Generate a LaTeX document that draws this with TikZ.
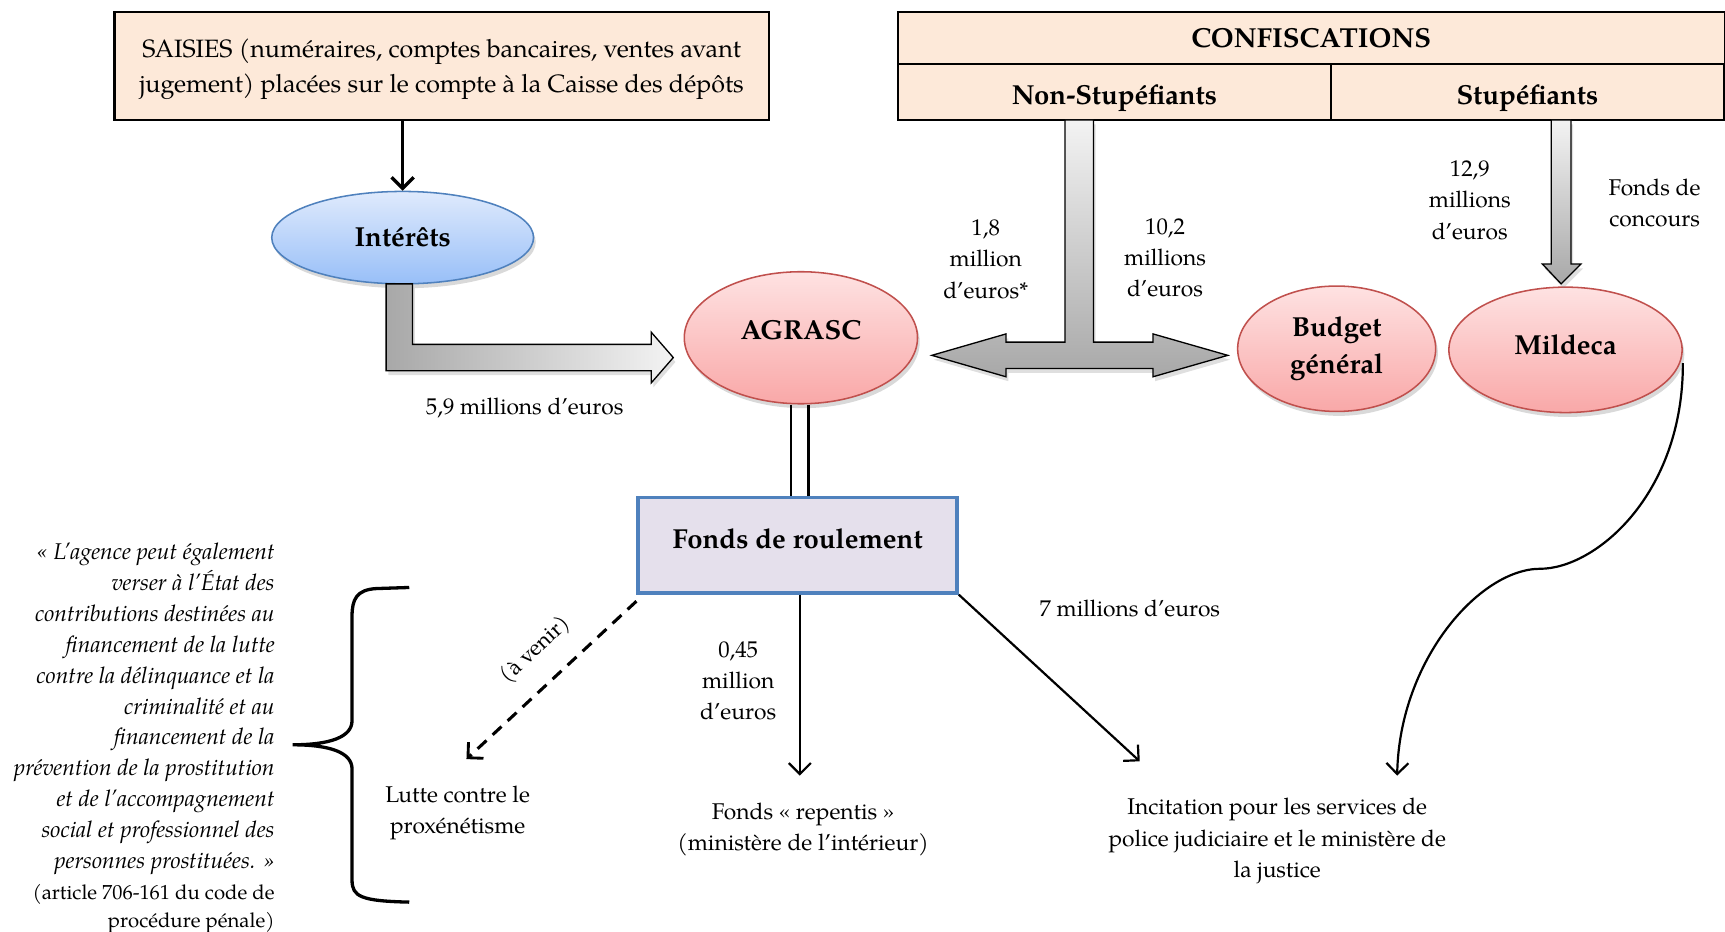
\documentclass[tikz,border=0pt]{standalone}
\usepackage{fontspec}
\setmainfont{TeX Gyre Pagella}
\usetikzlibrary{shapes.geometric,arrows.meta,shadows,calc}
\definecolor{peach}{RGB}{253,233,217}
\definecolor{lav}{RGB}{229,224,236}
\definecolor{blueb}{RGB}{79,129,189}
\definecolor{redb}{RGB}{192,80,77}
\definecolor{pinktop}{RGB}{254,226,226}
\definecolor{pinkbot}{RGB}{249,168,168}
\definecolor{bluetop}{RGB}{223,234,252}
\definecolor{bluebot}{RGB}{152,191,248}
\definecolor{gdark}{RGB}{168,168,168}
\definecolor{glight}{RGB}{243,243,243}
\begin{document}
\begin{tikzpicture}[x=0.5pt,y=-0.5pt,
  txt/.style={font=\fontsize{10.35}{14.2}\selectfont, align=center, inner sep=0pt},
  boldtxt/.style={font=\fontsize{12.5}{16.5}\selectfont\bfseries, align=center},
  peachbox/.style={draw=black, line width=1pt, fill=peach, inner sep=0pt, boldtxt},
  lowtext/.style={text height=15pt, text depth=3.5pt},
  oval/.style={ellipse, draw=redb, line width=0.7pt, top color=pinktop, bottom color=pinkbot, inner sep=0pt, boldtxt,
     drop shadow={opacity=0.3, shadow xshift=1pt, shadow yshift=-2pt}},
  blueoval/.style={oval, draw=blueb, top color=bluetop, bottom color=bluebot},
  blockarrow/.style={draw=black, line width=0.6pt, drop shadow={opacity=0.25, shadow xshift=1pt, shadow yshift=-2pt}},
  thinarrow/.style={line width=1pt, -{Straight Barb[length=5pt,width=10pt,line width=1pt]}},
]
\useasboundingbox (0,0) rectangle (1568,847);

% --- boxes ---
\node[draw=black, line width=1pt, fill=peach, minimum width=297.5pt, minimum height=49pt, txt,
      font=\fontsize{11.4}{16}\selectfont] (saisies) at (401.5,60)
  {\rule{0pt}{11.5pt}SAISIES (numéraires, comptes bancaires, ventes avant\\jugement) placées sur le compte à la Caisse des dépôts};

\node[peachbox, minimum width=376pt, minimum height=23.5pt] (conftitle) at (1192,34.5) {CONFISCATIONS};
\node[peachbox, lowtext, minimum width=197pt, minimum height=25.5pt] (nonstup) at (1013,83.5) {Non-Stupéfiants};
\node[peachbox, lowtext, minimum width=178.5pt, minimum height=25.5pt] (stup) at (1388.5,83.5) {Stupéfiants};

\node[blueoval, minimum width=119pt, minimum height=42pt] (interets) at (366,216) {Intérêts};
\node[oval, minimum width=106pt, minimum height=60pt] (agrasc) at (728,307) {\raisebox{7pt}{AGRASC}};
\node[oval, minimum width=90pt, minimum height=57pt] (budget) at (1215,317) {Budget\\général};
\node[oval, minimum width=106pt, minimum height=57pt] (mildeca) at (1423,318) {\raisebox{5pt}{Mildeca}};

\node[draw=blueb, line width=1.5pt, fill=lav, minimum width=145pt, minimum height=43.5pt, boldtxt, inner sep=0pt]
  (fonds) at (725,495.5) {\raisebox{5.5pt}{Fonds de roulement}};

% --- block arrows ---
\path[blockarrow, left color=gdark, right color=glight]
  (351,258) -- (375,258) -- (375,313) -- (592,313) -- (592,302) -- (612,325) -- (592,348) -- (592,337) -- (351,337) -- cycle;
\path[blockarrow, top color=glight, bottom color=gdark]
  (968,109) -- (994,109) -- (994,311) -- (1048,311) -- (1048,303.5) -- (1116,323) -- (1048,342.5) -- (1048,335)
  -- (914.5,335) -- (914.5,342.5) -- (847,323) -- (914.5,303.5) -- (914.5,311) -- (968,311) -- cycle;
\path[blockarrow, top color=glight, bottom color=gdark]
  (1410,109) -- (1428,109) -- (1428,240) -- (1437,240) -- (1419,258) -- (1402,240) -- (1410,240) -- cycle;

% --- labels ---
\node[txt] (l59) at (477,371) {5,9 millions d’euros};
\node[txt] (l18) at (896,235.5) {1,8\\million\\d’euros*};
\node[txt] (l102) at (1059,234.5) {10,2\\millions\\d’euros};
\node[txt] (l129) at (1336,182) {12,9\\millions\\d’euros};
\node[txt] (lfdc) at (1504,184.5) {Fonds de\\concours};
\node[txt] (l045) at (671,619) {0,45\\million\\d’euros};
\node[txt] (l7) at (1027,553) {7 millions d’euros};
\node[txt, font=\fontsize{10}{12}\selectfont, rotate=43] (lav) at (487,591) {(à venir)};

\node[txt] (lutte) at (416,739) {Lutte contre le\\proxénétisme};
\node[txt] (repentis) at (730,754) {Fonds « repentis »\\(ministère de l’intérieur)};
\node[txt] (incit) at (1161,764.5) {Incitation pour les services de\\police judiciaire et le ministère de\\la justice};

\node[txt, align=right, anchor=north east, font=\fontsize{10.35}{14.05}\selectfont] (quote) at (250,493)
  {\itshape « L’agence peut également\\ \itshape verser à l’État des\\ \itshape contributions destinées au\\
   \itshape financement de la lutte\\ \itshape contre la délinquance et la\\ \itshape criminalité et au\\
   \itshape financement de la\\ \itshape prévention de la prostitution\\ \itshape et de l’accompagnement\\
   \itshape social et professionnel des\\ \itshape personnes prostituées. »\\
   \fontsize{9.25}{13}\selectfont (article 706-161 du code de\\[-1.5pt] \fontsize{9.25}{13}\selectfont procédure pénale)};

% --- connectors ---
\coordinate (lutteTip) at (424,690);
\coordinate (repTip) at (727,705);
\coordinate (incTip) at (1036,692);
\coordinate (incTip2) at (1270,705);
\coordinate (midS) at (1400,517);

\draw[line width=1.5pt, -{Straight Barb[length=5pt,width=10pt,line width=1.5pt]}] (saisies.south -| interets.north) -- (interets.north);
\draw[line width=1.1pt] ([xshift=-4.5pt]agrasc.south) -- ([xshift=-4.5pt]agrasc.south |- fonds.north);
\draw[line width=1.1pt] ([xshift=3.5pt]agrasc.south) -- ([xshift=3.5pt]agrasc.south |- fonds.north);
\draw[line width=1.4pt, dash pattern=on 5.5pt off 3.8pt, -{Straight Barb[length=5pt,width=10pt,line width=1.3pt]}]
  ([yshift=-3pt]fonds.south west) -- (lutteTip);
\draw[thinarrow] (fonds.south -| repTip) -- (repTip);
\draw[thinarrow] (fonds.south east) -- (incTip);
\draw[thinarrow] ([yshift=-6pt]mildeca.east) .. controls (1530,450) and (1450,517) .. (midS)
   .. controls (1345,517) and (1272,600) .. (incTip2);

% brace
\draw[line width=1.5pt] (372,534) -- (342,535) .. controls (324,536) and (320,545) .. (320,560) -- (320,655)
   .. controls (320,670) and (300,677) .. (266,677) .. controls (300,677) and (320,684) .. (320,699)
   -- (320,800) .. controls (320,815) and (328,819) .. (372,820);
\end{tikzpicture}
\end{document}
